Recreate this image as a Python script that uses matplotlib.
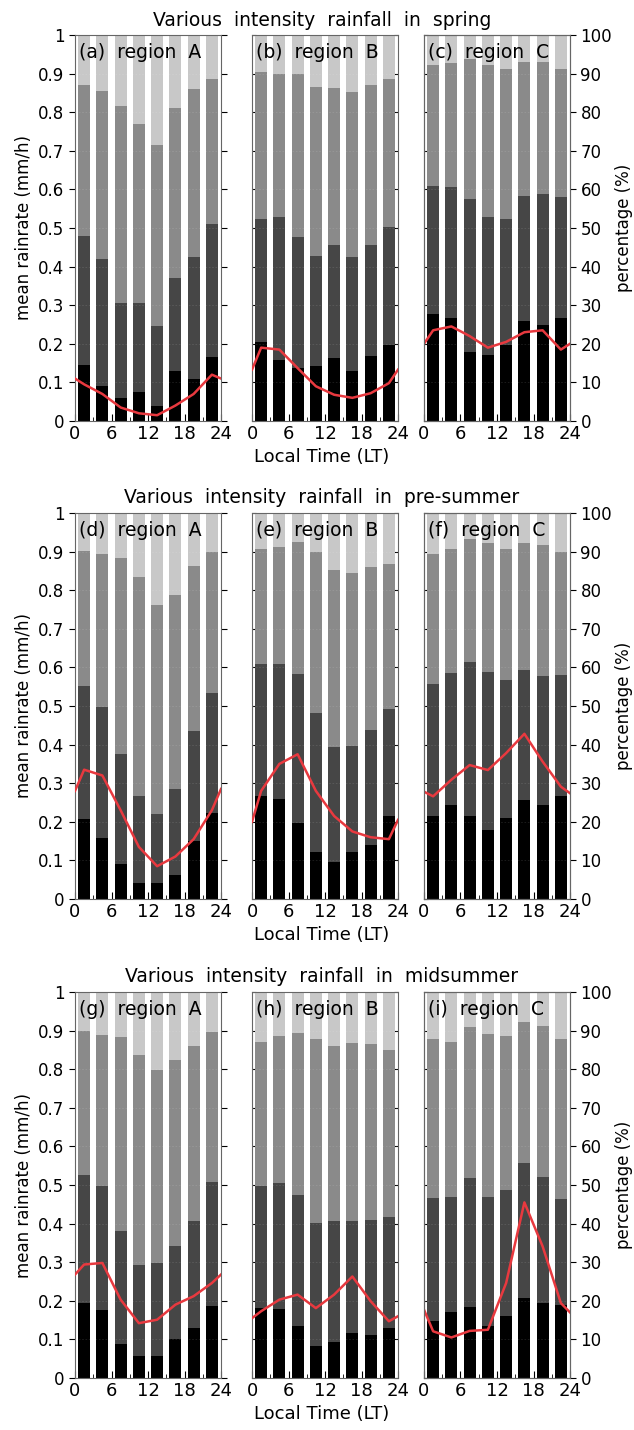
import numpy as np
import matplotlib
matplotlib.use("Agg")
import matplotlib.pyplot as plt

# 3-hourly bins, bar centres
hours = [1.5, 4.5, 7.5, 10.5, 13.5, 16.5, 19.5, 22.5]
# red curve: same bins plus both ends of the day
line_hours = [0, 1.5, 4.5, 7.5, 10.5, 13.5, 16.5, 19.5, 22.5, 24]

seasons = ["spring", "pre-summer", "midsummer"]
regions = ["A", "B", "C"]
letters = ["a", "b", "c", "d", "e", "f", "g", "h", "i"]

# cumulative tops of the stacked layers (black, dark grey, mid grey); light grey fills to 1
spring_A = [[0.145, 0.09, 0.06, 0.075, 0.04, 0.13, 0.11, 0.165],
            [0.48, 0.42, 0.305, 0.305, 0.245, 0.37, 0.425, 0.51],
            [0.87, 0.855, 0.815, 0.77, 0.715, 0.81, 0.86, 0.885]]
spring_B = [[0.204, 0.159, 0.137, 0.143, 0.163, 0.129, 0.169, 0.198],
            [0.523, 0.528, 0.476, 0.428, 0.456, 0.424, 0.455, 0.502],
            [0.905, 0.90, 0.899, 0.866, 0.862, 0.853, 0.871, 0.885]]
spring_C = [[0.277, 0.268, 0.18, 0.17, 0.198, 0.258, 0.248, 0.268],
            [0.61, 0.607, 0.576, 0.528, 0.524, 0.584, 0.588, 0.58],
            [0.921, 0.927, 0.937, 0.922, 0.911, 0.931, 0.929, 0.911]]
presummer_A = [[0.207, 0.158, 0.09, 0.041, 0.041, 0.061, 0.149, 0.224],
               [0.553, 0.498, 0.376, 0.266, 0.22, 0.284, 0.434, 0.533],
               [0.901, 0.895, 0.884, 0.833, 0.761, 0.787, 0.862, 0.898]]
presummer_B = [[0.267, 0.259, 0.197, 0.123, 0.095, 0.121, 0.141, 0.216],
               [0.61, 0.61, 0.582, 0.481, 0.395, 0.397, 0.438, 0.491],
               [0.906, 0.912, 0.925, 0.899, 0.852, 0.845, 0.859, 0.867]]
presummer_C = [[0.216, 0.244, 0.214, 0.178, 0.209, 0.257, 0.244, 0.266],
               [0.556, 0.586, 0.613, 0.589, 0.567, 0.593, 0.578, 0.58],
               [0.895, 0.908, 0.932, 0.923, 0.906, 0.923, 0.916, 0.899]]
midsummer_A = [[0.194, 0.175, 0.088, 0.056, 0.058, 0.102, 0.13, 0.186],
               [0.527, 0.497, 0.38, 0.294, 0.298, 0.343, 0.408, 0.507],
               [0.898, 0.889, 0.883, 0.838, 0.799, 0.825, 0.859, 0.896]]
midsummer_B = [[0.181, 0.179, 0.134, 0.082, 0.093, 0.117, 0.112, 0.13],
               [0.498, 0.506, 0.475, 0.402, 0.406, 0.406, 0.409, 0.417],
               [0.87, 0.885, 0.894, 0.879, 0.859, 0.868, 0.864, 0.851]]
midsummer_C = [[0.147, 0.17, 0.184, 0.136, 0.16, 0.206, 0.194, 0.19],
               [0.466, 0.468, 0.518, 0.469, 0.486, 0.557, 0.522, 0.465],
               [0.877, 0.871, 0.909, 0.891, 0.886, 0.922, 0.911, 0.877]]

# mean rainrate (mm/h)
rate_spring_A = [0.11, 0.095, 0.07, 0.035, 0.02, 0.015, 0.04, 0.07, 0.12, 0.11]
rate_spring_B = [0.133, 0.19, 0.185, 0.137, 0.09, 0.068, 0.06, 0.072, 0.098, 0.133]
rate_spring_C = [0.20, 0.235, 0.245, 0.22, 0.19, 0.205, 0.23, 0.235, 0.185, 0.20]
rate_presummer_A = [0.28, 0.335, 0.32, 0.23, 0.135, 0.085, 0.11, 0.155, 0.23, 0.285]
rate_presummer_B = [0.20, 0.28, 0.35, 0.375, 0.28, 0.215, 0.175, 0.16, 0.155, 0.205]
rate_presummer_C = [0.278, 0.266, 0.309, 0.347, 0.334, 0.378, 0.428, 0.356, 0.291, 0.274]
rate_midsummer_A = [0.268, 0.294, 0.298, 0.203, 0.142, 0.151, 0.19, 0.212, 0.246, 0.268]
rate_midsummer_B = [0.155, 0.173, 0.203, 0.216, 0.181, 0.216, 0.263, 0.199, 0.147, 0.16]
rate_midsummer_C = [0.177, 0.121, 0.105, 0.122, 0.125, 0.246, 0.455, 0.341, 0.194, 0.17]

stacks = [[spring_A, spring_B, spring_C],
          [presummer_A, presummer_B, presummer_C],
          [midsummer_A, midsummer_B, midsummer_C]]
rates = [[rate_spring_A, rate_spring_B, rate_spring_C],
         [rate_presummer_A, rate_presummer_B, rate_presummer_C],
         [rate_midsummer_A, rate_midsummer_B, rate_midsummer_C]]

layer_colors = ["#000000", "#464646", "#8a8a8a", "#c8c8c8"]
red = "#e8393f"

W, H = 634, 1430
fig = plt.figure(figsize=(W / 100, H / 100), dpi=100)
plt.rcParams["font.family"] = "DejaVu Sans"

col_left = [75, 252, 424]
row_top = [35, 513, 992]
aw, ah = 146, 386
fs = 12

for r in range(3):
    for c in range(3):
        ax = fig.add_axes([col_left[c] / W, 1 - (row_top[r] + ah) / H, aw / W, ah / H])
        tops = np.vstack([np.zeros(8), np.array(stacks[r][c]), np.ones(8)])
        for k in range(4):
            ax.bar(hours, tops[k + 1] - tops[k], bottom=tops[k], width=1.95,
                   color=layer_colors[k], linewidth=0, zorder=2)
        for g in np.arange(0.1, 1.0, 0.1):
            ax.axhline(g, color="white", alpha=0.12, lw=0.6, ls=(0, (2, 2)), zorder=3)
        ax.plot(line_hours, rates[r][c], color=red, lw=1.8, zorder=4)
        ax.set_xlim(0, 24)
        ax.set_ylim(0, 1)
        ax.set_xticks([0, 6, 12, 18, 24])
        ax.set_xticks([3, 9, 15, 21], minor=True)
        ax.tick_params(axis="x", direction="in", length=5, labelsize=fs + 1, pad=3)
        ax.tick_params(axis="x", which="minor", direction="in", length=3)
        ax.set_yticks(np.arange(0, 1.01, 0.1))
        ax.tick_params(axis="y", direction="in", length=3, left=True, right=True,
                       labelleft=False, labelright=False, labelsize=fs)
        for s in ax.spines.values():
            s.set_color("#666666")
            s.set_linewidth(0.8)
        ax.text(0.7, 0.978, "(%s)  region  %s" % (letters[3 * r + c], regions[c]),
                fontsize=13.5, va="top", ha="left", zorder=5)
        if c == 0:
            ax.tick_params(axis="y", which="both", left=True, labelleft=True, direction="out", length=4)
            ax.set_yticklabels(["0", "0.1", "0.2", "0.3", "0.4", "0.5", "0.6", "0.7", "0.8", "0.9", "1"])
            ax.set_ylabel("mean rainrate (mm/h)", fontsize=fs, labelpad=4)
        if c == 2:
            ax2 = ax.twinx()
            ax2.set_ylim(0, 100)
            ax2.set_yticks(np.arange(0, 101, 10))
            ax2.tick_params(axis="y", direction="out", length=4, labelsize=fs)
            ax2.set_ylabel("percentage (%)", fontsize=fs, labelpad=2)
            for s in ax2.spines.values():
                s.set_color("#666666")
                s.set_linewidth(0.8)
    fig.text(322 / W, 1 - (row_top[r] - 15) / H, "Various  intensity  rainfall  in  " + seasons[r],
             ha="center", va="center", fontsize=13.5)
    fig.text(322 / W, 1 - (row_top[r] + ah + 36) / H, "Local Time (LT)",
             ha="center", va="center", fontsize=13)

fig.savefig("out.png", dpi=100, facecolor="white")
